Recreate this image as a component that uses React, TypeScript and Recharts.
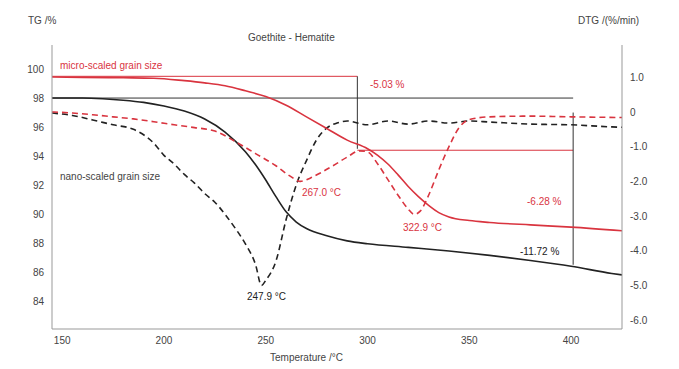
import React from 'react';
import { LineChart, Line, XAxis, YAxis, ReferenceLine } from 'recharts';

// nano-scaled TG (solid black)
const nanoTgTemp = [145, 160, 170, 180, 190, 200, 210, 220, 230, 240, 245, 250, 255, 260, 265, 270, 280, 290, 300, 320, 340, 360, 380, 400, 420, 425];
const nanoTg = [98.0, 98.0, 97.95, 97.85, 97.7, 97.45, 97.1, 96.55, 95.65, 94.3, 93.4, 92.35, 91.2, 90.15, 89.45, 89.0, 88.5, 88.15, 87.95, 87.7, 87.45, 87.15, 86.8, 86.4, 85.9, 85.8];

// nano-scaled DTG (dashed black)
const nanoDtgTemp = [145, 155, 165, 175, 185, 195, 200, 205, 210, 215, 220, 225, 230, 235, 240, 245, 247.9, 250, 255, 260, 265, 270, 275, 280, 285, 290, 300, 310, 320, 330, 340, 350, 360, 380, 400, 420, 425];
const nanoDtg = [-0.03, -0.1, -0.23, -0.37, -0.5, -0.9, -1.25, -1.5, -1.8, -2.05, -2.35, -2.6, -2.95, -3.35, -3.8, -4.4, -5.0, -4.85, -4.3, -3.1, -2.1, -1.4, -0.8, -0.46, -0.32, -0.26, -0.37, -0.26, -0.35, -0.26, -0.32, -0.26, -0.29, -0.35, -0.37, -0.43, -0.44];

// micro-scaled TG (solid red)
const microTgTemp = [145, 160, 180, 195, 210, 220, 230, 240, 250, 260, 270, 280, 290, 300, 305, 310, 315, 320, 325, 330, 335, 340, 350, 360, 380, 400, 425];
const microTg = [99.45, 99.43, 99.4, 99.37, 99.2, 99.05, 98.85, 98.5, 98.1, 97.5, 96.7, 95.9, 95.1, 94.5, 94.05, 93.45, 92.7, 91.9, 91.2, 90.6, 90.1, 89.8, 89.55, 89.42, 89.25, 89.1, 88.85];

// micro-scaled DTG (dashed red)
const microDtgTemp = [145, 155, 165, 175, 185, 195, 205, 215, 225, 235, 245, 255, 262, 267, 272, 277, 283, 290, 296, 300, 305, 310, 315, 320, 322.9, 326, 330, 335, 340, 345, 350, 360, 380, 400, 425];
const microDtg = [0.0, -0.03, -0.08, -0.14, -0.2, -0.28, -0.37, -0.45, -0.55, -0.85, -1.2, -1.55, -1.85, -2.0, -1.9, -1.75, -1.55, -1.3, -1.12, -1.15, -1.5, -1.95, -2.4, -2.8, -2.95, -2.85, -2.4, -1.67, -1.0, -0.45, -0.22, -0.14, -0.12, -0.14, -0.16];

const tempTicks = [150, 200, 250, 300, 350, 400];
const tgTicks = [84, 86, 88, 90, 92, 94, 96, 98, 100];
const dtgTicks = [1, 0, -1, -2, -3, -4, -5, -6];

const toPoints = (t: number[], v: number[]) => t.map((x, i) => ({ t: x, v: v[i] }));

const RED = '#d9343f';
const BLACK = '#222';
const FONT = '"Liberation Sans", Arial, sans-serif';

const txt = (left: number, top: number, color: string, s: string) => (
  <div style={{ position: 'absolute', left, top, color, fontSize: 10, fontFamily: FONT, whiteSpace: 'nowrap', lineHeight: '12px' }}>
    {s}
  </div>
);

const tickStyle = { fontSize: 10, fill: '#444', fontFamily: FONT };

export default function App() {
  return (
    <div style={{ position: 'absolute', left: 0, top: 0, width: 679, height: 369, background: '#fff' }}>
      <LineChart width={679} height={369} margin={{ top: 45, right: 12, bottom: 10, left: 12 }}>
        <XAxis
          dataKey="t"
          type="number"
          domain={[145, 425]}
          ticks={tempTicks}
          allowDataOverflow
          stroke="#999"
          tickLine={false}
          tick={tickStyle}
          height={30}
        />
        <YAxis
          yAxisId="tg"
          domain={[82.07, 101.66]}
          ticks={tgTicks}
          allowDataOverflow
          stroke="#999"
          tickLine={false}
          tick={tickStyle}
          width={40}
        />
        <YAxis
          yAxisId="dtg"
          orientation="right"
          domain={[-6.254, 1.93]}
          ticks={dtgTicks}
          allowDataOverflow
          stroke="#999"
          tickLine={false}
          tick={tickStyle}
          tickFormatter={(v: number) => (v === 0 ? '0' : v.toFixed(1))}
          width={45}
        />

        <ReferenceLine yAxisId="tg" segment={[{ x: 145, y: 99.5 }, { x: 295, y: 99.5 }]} stroke={RED} strokeWidth={1} />
        <ReferenceLine yAxisId="tg" segment={[{ x: 145, y: 98 }, { x: 401, y: 98 }]} stroke="#333" strokeWidth={1} />
        <ReferenceLine yAxisId="tg" segment={[{ x: 295, y: 99.5 }, { x: 295, y: 94.5 }]} stroke="#333" strokeWidth={1} />
        <ReferenceLine yAxisId="tg" segment={[{ x: 295, y: 94.4 }, { x: 401, y: 94.4 }]} stroke={RED} strokeWidth={1} />
        <ReferenceLine yAxisId="tg" segment={[{ x: 401, y: 97 }, { x: 401, y: 86.5 }]} stroke="#333" strokeWidth={1} />

        <Line yAxisId="tg" data={toPoints(nanoTgTemp, nanoTg)} dataKey="v" type="monotone" stroke={BLACK} strokeWidth={1.6} dot={false} isAnimationActive={false} />
        <Line yAxisId="dtg" data={toPoints(nanoDtgTemp, nanoDtg)} dataKey="v" type="monotone" stroke={BLACK} strokeWidth={1.6} strokeDasharray="6 4" dot={false} isAnimationActive={false} />
        <Line yAxisId="tg" data={toPoints(microTgTemp, microTg)} dataKey="v" type="monotone" stroke={RED} strokeWidth={1.6} dot={false} isAnimationActive={false} />
        <Line yAxisId="dtg" data={toPoints(microDtgTemp, microDtg)} dataKey="v" type="monotone" stroke={RED} strokeWidth={1.6} strokeDasharray="6 4" dot={false} isAnimationActive={false} />
      </LineChart>

      {txt(28, 15, '#444', 'TG /%')}
      {txt(578, 15, '#444', 'DTG /(%/min)')}
      {txt(248, 32, '#444', 'Goethite  -  Hematite')}
      {txt(60, 60, RED, 'micro-scaled grain size')}
      {txt(60, 171, '#444', 'nano-scaled grain size')}
      {txt(370, 79, RED, '-5.03 %')}
      {txt(302, 187, RED, '267.0 °C')}
      {txt(403, 222, RED, '322.9 °C')}
      {txt(247, 291, BLACK, '247.9 °C')}
      {txt(527, 196, RED, '-6.28 %')}
      {txt(520, 246, BLACK, '-11.72 %')}
      {txt(270, 352, '#444', 'Temperature /°C')}
    </div>
  );
}
